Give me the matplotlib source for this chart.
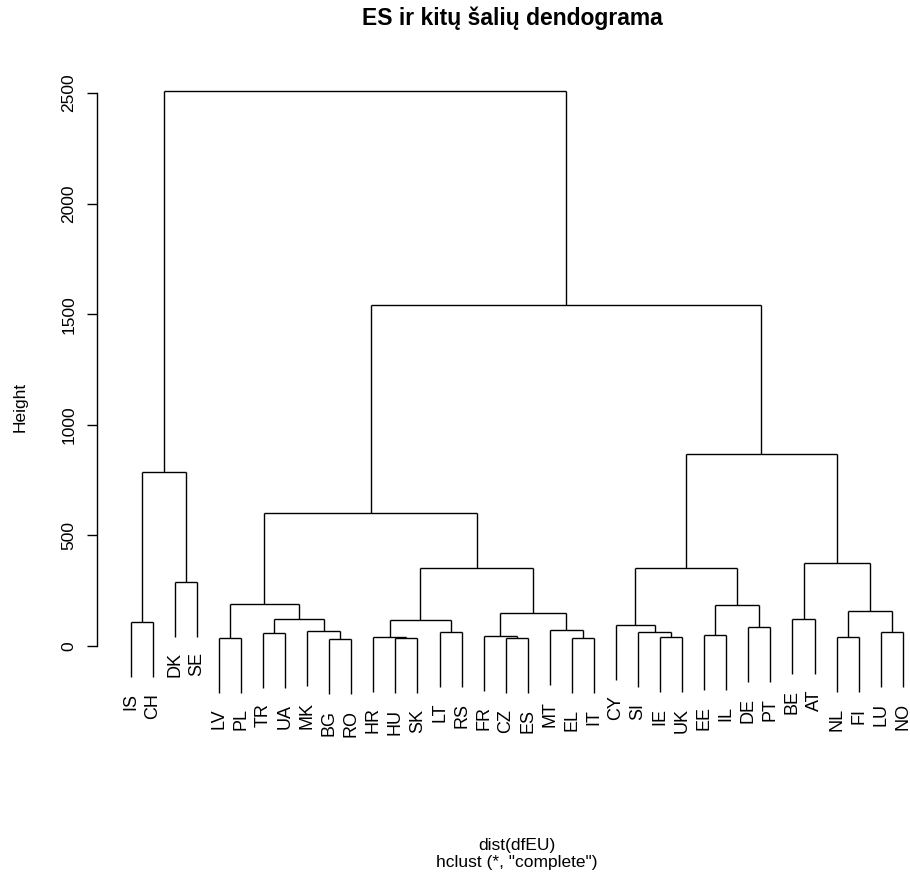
import matplotlib.pyplot as plt

plt.rcParams['font.family'] = ['Liberation Sans', 'DejaVu Sans']

# leaf labels in the order they sit along the x axis
leaves = ['IS', 'CH', 'DK', 'SE', 'LV', 'PL', 'TR', 'UA', 'MK', 'BG', 'RO',
          'HR', 'HU', 'SK', 'LT', 'RS', 'FR', 'CZ', 'ES', 'MT', 'EL', 'IT',
          'CY', 'SI', 'IE', 'UK', 'EE', 'IL', 'DE', 'PT', 'BE', 'AT', 'NL',
          'FI', 'LU', 'NO']

# merge steps, hclust style: a string is a leaf, an int points to an earlier step (1-based)
merge_left = ['BG', 'HU', 'CZ', 'EL', 'LV', 'IE', 'NL', 'HR', 'FR', 'EE',
              'TR', 'LT', 'SI', 'LU', 'MK', 'MT', 'DE', 'CY', 'IS', 8,
              11, 'BE', 9, 7, 10, 5, 'DK', 20, 18, 22,
              26, 19, 29, 31, 32]
merge_right = ['RO', 'SK', 'ES', 'IT', 'PL', 'UK', 'FI', 2, 3, 'IL',
               'UA', 'RS', 6, 'NO', 1, 4, 'PT', 13, 'CH', 12,
               15, 'AT', 16, 14, 17, 21, 'SE', 23, 25, 24,
               28, 27, 30, 33, 34]
merge_height = [30, 36, 36, 36, 37.5, 41, 41, 42, 46.6, 51,
                60, 63, 63, 63, 69, 71, 85, 96, 108.5, 119,
                121, 123, 148, 158, 184, 190, 290.7, 351, 351, 374,
                601, 788, 867, 1542, 2508]

y_ticks = [0, 500, 1000, 1500, 2000, 2500]

W, H = 910, 880
fig = plt.figure(figsize=(W / 100, H / 100), dpi=100)

# axes box in pixels: left spine at x=97, y runs 0 -> 646px, 2500 -> 93px
left, right, top, bottom = 97, 905, 60, 806
ax = fig.add_axes([left / W, 1 - bottom / H, (right - left) / W, (bottom - top) / H])
x0, dx = 130.7, 22.06
y0, dy = 646, 553 / 2500
ax.set_xlim((left - x0) / dx, (right - x0) / dx)
ax.set_ylim(-(bottom - y0) / dy, (y0 - top) / dy)

hang = 0.1 * (max(merge_height) - min(merge_height))
leaf_pos = {name: i for i, name in enumerate(leaves)}
node_x = []
line_kw = dict(color='black', lw=1.0, solid_capstyle='butt')

for a, b, h in zip(merge_left, merge_right, merge_height):
    xs = []
    for child in (a, b):
        if isinstance(child, str):
            cx = leaf_pos[child]
            cy = h - hang
            ax.annotate(child, (cx, cy), xytext=(0, -11.5), textcoords='offset points',
                        rotation=90, ha='center', va='top', fontsize=13)
        else:
            cx = node_x[child - 1]
            cy = merge_height[child - 1]
        ax.plot([cx, cx], [cy, h], **line_kw)
        xs.append(cx)
    ax.plot(xs, [h, h], **line_kw)
    node_x.append(sum(xs) / 2)

for side in ['top', 'right', 'bottom']:
    ax.spines[side].set_visible(False)
ax.spines['left'].set_bounds(0, 2500)
ax.spines['left'].set_linewidth(1.0)
ax.set_xticks([])
ax.set_yticks(y_ticks)
ax.set_yticklabels([str(t) for t in y_ticks], rotation=90, va='center', fontsize=12.5)
ax.tick_params(axis='y', length=7, width=1.0, pad=8)

fig.text(512 / W, 1 - 18 / H, 'ES ir kitų šalių dendograma', ha='center', va='center',
         fontsize=16.5, fontweight='bold')
fig.text(20 / W, 1 - 407 / H, 'Height', rotation=90, ha='center', va='center', fontsize=12.5)
fig.text(517 / W, 1 - 845 / H, 'dist(dfEU)', ha='center', va='center', fontsize=12.5)
fig.text(517 / W, 1 - 862 / H, 'hclust (*, "complete")', ha='center', va='center', fontsize=12.5)

fig.savefig('out.png', dpi=100)
